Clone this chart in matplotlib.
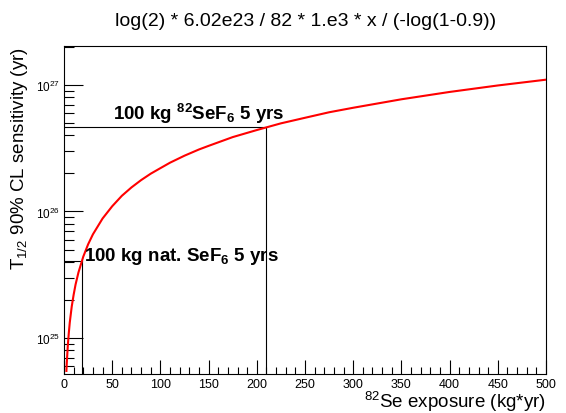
import matplotlib
matplotlib.use("Agg")
import matplotlib.pyplot as plt
from matplotlib.ticker import FixedLocator, LogLocator, NullFormatter

plt.rcParams['font.family'] = ['Liberation Sans', 'DejaVu Sans']
plt.rcParams['mathtext.fontset'] = 'custom'
plt.rcParams['mathtext.rm'] = 'Liberation Sans'
plt.rcParams['mathtext.it'] = 'Liberation Sans:italic'
plt.rcParams['mathtext.bf'] = 'Liberation Sans:bold'

# Exposure (kg*yr) and half-life sensitivity (yr)
exposure = [2.5, 3, 4, 5, 6, 8, 10, 12, 15, 20, 25, 30, 40, 50, 60, 70, 80, 90,
            100, 110, 125, 140, 150, 175, 200, 225, 250, 275, 300, 350, 400, 450, 500]
sensitivity = [5.5e24, 6.6e24, 8.8e24, 1.1e25, 1.33e25, 1.77e25, 2.2e25, 2.65e25,
               3.3e25, 4.4e25, 5.5e25, 6.6e25, 8.8e25, 1.1e26, 1.33e26, 1.55e26,
               1.77e26, 1.99e26, 2.2e26, 2.43e26, 2.76e26, 3.09e26, 3.3e26, 3.87e26,
               4.4e26, 4.97e26, 5.5e26, 6.08e26, 6.6e26, 7.7e26, 8.8e26, 9.9e26, 1.1e27]

# Reference scenarios
scen_exposure = [210, 18.5]
scen_sens = [4.64e26, 4.09e25]
scen_labels = [r"100 kg $^{\mathbf{82}}$SeF$_{\mathbf{6}}$ 5 yrs",
               r"100 kg nat. SeF$_{\mathbf{6}}$ 5 yrs"]

title = "log(2) * 6.02e23 / 82 * 1.e3 * x / (-log(1-0.9))"
xmin, xmax = 0, 500
ymin, ymax = 5.2e24, 2.03e27

fig = plt.figure(figsize=(5.66, 4.14), dpi=100)
ax = fig.add_axes([64/566, 1-375/414, (546-64)/566, (375-47)/414])
ax.set_yscale('log')
ax.plot(exposure, sensitivity, color='#ff0000', lw=1.5, zorder=3)

for ex, s in zip(scen_exposure, scen_sens):
    ax.plot([xmin, ex], [s, s], color='black', lw=0.8, zorder=2)
    ax.plot([ex, ex], [ymin, s], color='black', lw=0.8, zorder=2)

ax.text(51, 5.37e26, scen_labels[0], fontsize=13.5, fontweight='bold', ha='left', va='baseline')
ax.text(20.7, 4.17e25, scen_labels[1], fontsize=13.5, fontweight='bold', ha='left', va='baseline')

ax.set_xlim(xmin, xmax)
ax.set_ylim(ymin, ymax)

ax.xaxis.set_major_locator(FixedLocator(list(range(0, 501, 50))))
ax.xaxis.set_minor_locator(FixedLocator(list(range(0, 501, 10))))
ax.yaxis.set_major_locator(LogLocator(base=10, numticks=10))
ax.yaxis.set_minor_locator(LogLocator(base=10, subs=range(2, 10), numticks=20))
ax.yaxis.set_minor_formatter(NullFormatter())

ax.tick_params(axis='x', which='major', direction='in', length=10, width=0.8, labelsize=9, pad=3)
ax.tick_params(axis='x', which='minor', direction='in', length=5, width=0.8)
ax.tick_params(axis='y', which='major', direction='in', length=14, width=0.8, labelsize=8.5, pad=3)
ax.tick_params(axis='y', which='minor', direction='in', length=7, width=0.8)
for sp in ax.spines.values():
    sp.set_linewidth(0.8)

fig.text(306/566, 1-21/414, title, ha='center', va='center', fontsize=14)
fig.text(546/566, 1-408/414, r"$^{82}$Se exposure (kg*yr)", ha='right', va='baseline', fontsize=13.5)
fig.text(20/566, 1-47/414, r"T$_{1/2}$ 90% CL sensitivity (yr)", ha='center', va='top',
         rotation=90, fontsize=13.5)

fig.savefig("out.png", dpi=100)
